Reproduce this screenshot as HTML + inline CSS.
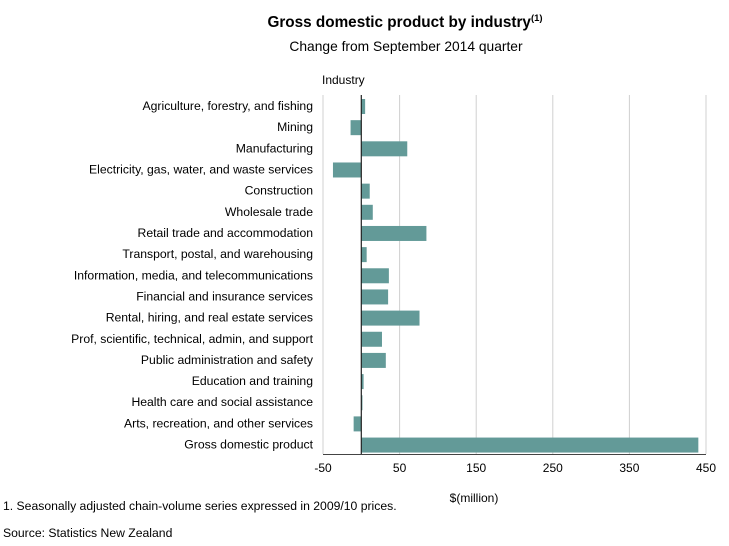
<!DOCTYPE html>
<html><head><meta charset="utf-8"><style>
body{margin:0;background:#fff;width:729px;height:541px;overflow:hidden;font-family:"Liberation Sans",Arial,sans-serif;}
svg text{font-family:"Liberation Sans",Arial,sans-serif;fill:#000;}
</style></head><body>
<svg id="chart" width="729" height="541" xmlns="http://www.w3.org/2000/svg">
<text x="405" y="27" text-anchor="middle" font-size="15.3" font-weight="bold">Gross domestic product by industry<tspan font-size="9.5" dy="-6">(1)</tspan></text>
<text x="406" y="51" text-anchor="middle" font-size="13.8">Change from September 2014 quarter</text>
<text x="322" y="84" font-size="12">Industry</text>
<g id="grid"></g><g id="bars"></g><g id="labels"></g><g id="ticks"></g>
<text x="474" y="502" text-anchor="middle" font-size="12">$(million)</text>
<text x="3" y="510" font-size="12.2">1. Seasonally adjusted chain-volume series expressed in 2009/10 prices.</text>
<text x="3" y="537" font-size="12.2">Source: Statistics New Zealand</text>
</svg>
<script>
const categories=["Agriculture, forestry, and fishing","Mining","Manufacturing","Electricity, gas, water, and waste services","Construction","Wholesale trade","Retail trade and accommodation","Transport, postal, and warehousing","Information, media, and telecommunications","Financial and insurance services","Rental, hiring, and real estate services","Prof, scientific, technical, admin, and support","Public administration and safety","Education and training","Health care and social assistance","Arts, recreation, and other services","Gross domestic product"];
const values=[5,-14,60,-37,11,15,85,7,36,35,76,27,32,3,1.5,-10,440];
const ticks=[-50,50,150,250,350,450];
const NS="http://www.w3.org/2000/svg";
function xS(v){return 361.3+v*0.766;}
function yS(i){return 106+i*21.16;}
function mk(t,a,p){const e=document.createElementNS(NS,t);for(const k in a)e.setAttribute(k,a[k]);p.appendChild(e);return e;}
const grid=document.getElementById('grid'),bars=document.getElementById('bars'),labels=document.getElementById('labels'),tk=document.getElementById('ticks');
ticks.forEach(t=>{
  const l=mk('line',{x1:xS(t),x2:xS(t),y1:95,y2:454,stroke:'#d0d0d0','stroke-width':1},grid);
  
  
  const tx=mk('text',{x:xS(t),y:472,'text-anchor':'middle','font-size':12},tk);
  tx.textContent=t;
  
  
});
const ax=mk('line',{x1:xS(-50),x2:xS(450),y1:454.5,y2:454.5,stroke:'#444','stroke-width':1},grid);


values.forEach((v,i)=>{
  const x0=Math.min(xS(0),xS(v)),w=Math.abs(xS(v)-xS(0));
  const r=mk('rect',{x:x0,y:yS(i)-7,width:Math.max(w,1),height:15,fill:'#639a98'},bars);
  
  
  const t=mk('text',{x:313,y:yS(i)+4,'text-anchor':'end','font-size':12.2},labels);
  t.textContent=categories[i];
  
  
});
const z=mk('line',{x1:xS(0),x2:xS(0),y1:95,y2:454,stroke:'#222','stroke-width':1.2},bars);


</script>
</body></html>
